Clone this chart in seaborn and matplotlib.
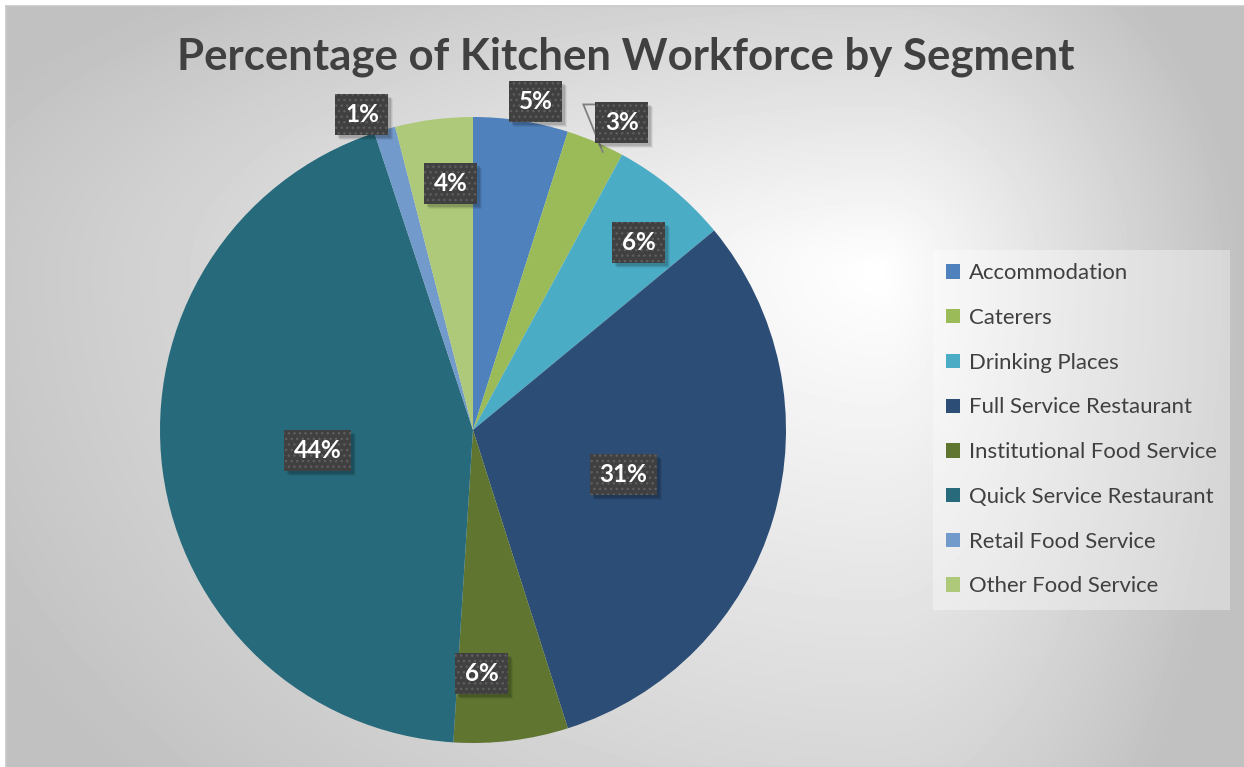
import numpy as np
import matplotlib
matplotlib.use("Agg")
import matplotlib.pyplot as plt
import matplotlib.transforms as mtransforms
from matplotlib.patches import Patch, Rectangle
import seaborn as sns

# data
segments = ["Accommodation", "Caterers", "Drinking Places", "Full Service Restaurant",
            "Institutional Food Service", "Quick Service Restaurant",
            "Retail Food Service", "Other Food Service"]
shares = [4.9, 3.0, 6.1, 31.1, 5.9, 43.9, 1.1, 4.0]
labels = ["5%", "3%", "6%", "31%", "6%", "44%", "1%", "4%"]

colors = ["#4F81BD", "#9BBB59", "#4BACC6", "#2C4D75",
          "#5F7530", "#276A7C", "#729ACA", "#AFC97A"]

# where each label sits: fraction of radius, small angle nudge (deg, clockwise)
lab_r = [1.07, 1.09, 0.80, 0.50, 0.78, 0.50, 1.07, 0.79]
lab_da = [2, 2.8, 2, 0, 5, 0, -3, 2]

sns.set_theme(style="white")
plt.rcParams['font.family'] = ['Lato', 'DejaVu Sans']

W, H = 1244, 767
fig = plt.figure(figsize=(W / 100, H / 100), dpi=100)
fig.patch.set_facecolor("white")

# gradient background (light spot to the upper right, gray toward the edges)
bg = fig.add_axes([6 / W, 0, 1 - 6 / W, 1 - 6 / H])
xx, yy = np.meshgrid(np.arange(6, W), np.arange(6, H))
cx, cy = 880, 270
rx = np.where(xx < cx, 1000, 360)
ry = np.where(yy < cy, 380, 760)
d = np.clip(np.sqrt(((xx - cx) / rx) ** 2 + ((yy - cy) / ry) ** 2), 0, 1)
grad = 255 - (255 - 193) * d
bg.imshow(grad, cmap="gray", vmin=0, vmax=255, aspect="auto",
          extent=[0, 1, 0, 1], interpolation="bilinear")
bg.set_xticks([])
bg.set_yticks([])
for s in ["right", "bottom"]:
    bg.spines[s].set_visible(False)
for s in ["left", "top"]:
    bg.spines[s].set_color("#c8c8c8")
    bg.spines[s].set_linewidth(1.2)

fig.text(626 / W, 1 - 57 / H, "Percentage of Kitchen Workforce by Segment",
         ha="center", va="center", fontsize=31.5, fontweight="bold", color="#404040")

# pie
ax = fig.add_axes([160 / W, 1 - 743 / H, 626 / W, 626 / H])
ax.set_facecolor("none")
wedges, _ = ax.pie(shares, colors=colors, startangle=90, counterclock=False,
                   wedgeprops=dict(linewidth=0))
ax.set_xlim(-1, 1)
ax.set_ylim(-1, 1)
ax.axis("off")

texts = []
for w, lab, rf, da in zip(wedges, labels, lab_r, lab_da):
    mid = np.deg2rad((w.theta1 + w.theta2) / 2 - da)
    t = ax.text(rf * np.cos(mid), rf * np.sin(mid), lab, ha="center", va="center",
                fontsize=17.5, fontweight="bold", color="white", zorder=6)
    texts.append(t)

# dark label boxes (with soft shadow) sized from the rendered text
fig.canvas.draw()
rend = fig.canvas.get_renderer()
ident = mtransforms.IdentityTransform()
padx, boxh = 9.5, 41
boxes = []
for t in texts:
    ext = t.get_window_extent(rend)
    x0 = ext.x0 - padx
    y0 = (ext.y0 + ext.y1) / 2 - boxh / 2
    bw = ext.width + 2 * padx
    for k, a in [(5, 0.06), (4, 0.08), (3, 0.12)]:
        ax.add_patch(Rectangle((x0 + k, y0 - k), bw, boxh, transform=ident,
                               facecolor="black", alpha=a, linewidth=0, zorder=4,
                               clip_on=False))
    ax.add_patch(Rectangle((x0, y0), bw, boxh, transform=ident, facecolor="#404040",
                           edgecolor="#5e5e5e", linewidth=0, hatch="...", zorder=5,
                           clip_on=False))
    boxes.append((x0, y0, bw, boxh))

# leader line for the Caterers label
w = wedges[1]
edge = np.deg2rad((w.theta1 + w.theta2) / 2 - 2)
p_edge = ax.transData.transform((0.98 * np.cos(edge), 0.98 * np.sin(edge)))
x0, y0, bw, bh = boxes[1]
lx = [p_edge[0], x0 - 12, x0]
ly = [p_edge[1], y0 + bh - 2, y0 + bh - 2]
ax.plot(lx, ly, color="#7f7f7f", lw=1.3, transform=ident, zorder=3,
        solid_joinstyle="miter", clip_on=False)

# legend
handles = [Patch(facecolor=c, edgecolor="none") for c in colors]
leg = fig.legend(handles, segments, loc="upper left",
                 bbox_to_anchor=(933 / W, 1 - 250 / H), ncol=1,
                 fontsize=15.9, frameon=True, fancybox=False,
                 handlelength=0.62, handleheight=0.62, handletextpad=0.4,
                 labelspacing=1.12, borderpad=0.6, borderaxespad=0)
leg.get_frame().set_facecolor("white")
leg.get_frame().set_alpha(0.35)
leg.get_frame().set_linewidth(0)
for txt in leg.get_texts():
    txt.set_color("#404040")

fig.savefig("out.png", dpi=100)
